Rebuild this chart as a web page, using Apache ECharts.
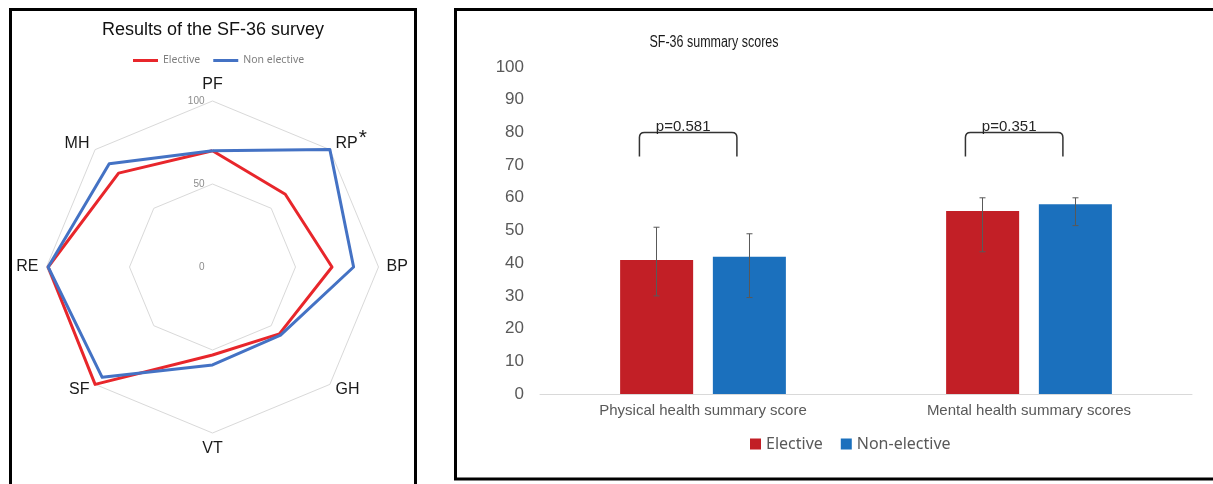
<!DOCTYPE html>
<html>
<head>
<meta charset="utf-8">
<title>SF-36</title>
<script src="https://cdn.jsdelivr.net/npm/echarts@6/dist/echarts.min.js"></script>
<style>
html, body { margin: 0; padding: 0; background: #fff; }
#main { width: 1213px; height: 484px; }
</style>
</head>
<body>
<div id="main"></div>
<script>
// radar: SF-36 domains, clockwise from the top
var domains = ['PF', 'RP', 'BP', 'GH', 'VT', 'SF', 'RE', 'MH'];
var radarElective = [70, 62, 72, 57, 53, 100, 99, 80];
var radarNonElective = [70, 100, 85, 58, 59, 94, 99, 88];
var radarTicks = [0, 50, 100];

// bar chart: summary scores with error bars
var categories = ['Physical health summary score', 'Mental health summary scores'];
var barElective = [41, 56];
var barNonElective = [42, 58];
var errElective = [[30, 51], [43.5, 60]];
var errNonElective = [[29.5, 49], [51.5, 60]];
var pValues = ['p=0.581', 'p=0.351'];
var bracketTop = [80, 80];

var FONT = "'Liberation Sans', Arial, sans-serif";
var LEGFONT = "'Noto Sans', 'Open Sans', sans-serif";
var radarRed = '#e8262b', radarBlue = '#4472c4';
var barRed = '#c21f26', barBlue = '#1b70bd';

// echarts radar runs counter-clockwise, the figure runs clockwise
function ccw(a) {
	return [a[0]].concat(a.slice(1).reverse());
}

var indicators = ccw(domains).map(function (d, i) {
	var ind = { name: d, min: 0, max: radarTicks[radarTicks.length - 1] };
	if (i === 0) ind.axisLabel = { show: true };
	return ind;
});

function errorBars(errs, side) {
	return {
		type: 'custom',
		xAxisIndex: 0,
		yAxisIndex: 0,
		z: 5,
		encode: { x: 0, y: [1, 2] },
		data: errs.map(function (e, i) { return [i, e[0], e[1]]; }),
		renderItem: function (params, api) {
			var lo = api.coord([api.value(0), api.value(1)]);
			var hi = api.coord([api.value(0), api.value(2)]);
			var band = api.size([1, 0])[0];
			var x = lo[0] + side * band * 0.1426;
			var cap = 3;
			var st = { stroke: '#595959', lineWidth: 1 };
			return {
				type: 'group',
				children: [
					{ type: 'line', shape: { x1: x, y1: lo[1], x2: x, y2: hi[1] }, style: st },
					{ type: 'line', shape: { x1: x - cap, y1: hi[1], x2: x + cap, y2: hi[1] }, style: st },
					{ type: 'line', shape: { x1: x - cap, y1: lo[1], x2: x + cap, y2: lo[1] }, style: st }
				]
			};
		}
	};
}

var myChart = echarts.init(document.getElementById('main'));
var option = {
	backgroundColor: '#fff',
	animation: false,
	graphic: [
		{ type: 'rect', z: -10, shape: { x: 10.5, y: 9.5, width: 405, height: 520 },
			style: { fill: '#fff', stroke: '#000', lineWidth: 3 } },
		{ type: 'rect', z: -10, shape: { x: 455.5, y: 9.5, width: 800, height: 469.5 },
			style: { fill: '#fff', stroke: '#000', lineWidth: 3 } },
		// condensed title of the right panel
		{ type: 'text', x: 714, y: 43, scaleX: 0.78,
			style: { text: 'SF-36 summary scores', align: 'center', verticalAlign: 'middle',
				fontSize: 16, fill: '#1a1a1a', fontFamily: FONT } }
	],
	title: [
		{
			text: 'Results of the SF-36 survey',
			left: 208, top: 16, textAlign: 'center',
			textStyle: { fontSize: 18, fontWeight: 'normal', color: '#111', fontFamily: FONT }
		}
	],
	legend: [
		{
			left: 128, top: 50,
			icon: 'rect', itemWidth: 25, itemHeight: 3, itemGap: 13,
			textStyle: { fontSize: 10.5, color: '#7f7f7f', fontFamily: LEGFONT },
			data: [
				{ name: 'Elective', itemStyle: { color: radarRed } },
				{ name: 'Non elective', itemStyle: { color: radarBlue } }
			]
		},
		{
			left: 745, top: 431,
			icon: 'rect', itemWidth: 11, itemHeight: 11, itemGap: 18,
			textStyle: { fontSize: 16, color: '#595959', fontFamily: LEGFONT },
			data: [
				{ name: 'Elective', itemStyle: { color: barRed } },
				{ name: 'Non-elective', itemStyle: { color: barBlue } }
			]
		}
	],
	radar: {
		center: [212.5, 267],
		radius: 166,
		startAngle: 90,
		splitNumber: radarTicks.length - 1,
		shape: 'polygon',
		nameGap: 8,
		indicator: indicators,
		axisName: {
			color: '#1a1a1a',
			fontSize: 16,
			fontFamily: FONT,
			formatter: function (name) {
				return name === 'RP' ? '{n|RP}{s|*}' : '{n|' + name + '}';
			},
			rich: {
				n: { fontSize: 16, color: '#1a1a1a', fontFamily: FONT },
				s: { fontSize: 21, color: '#1a1a1a', fontFamily: FONT, padding: [0, 0, 12, 1] }
			}
		},
		axisLine: { show: false },
		axisTick: { show: false },
		axisLabel: { show: false, color: '#8c8c8c', fontSize: 10, fontFamily: FONT, margin: 8 },
		splitLine: { lineStyle: { color: '#d9d9d9', width: 1 } },
		splitArea: { show: false }
	},
	grid: { left: 540, right: 21, top: 67, bottom: 90 },
	xAxis: {
		type: 'category',
		data: categories,
		axisLine: { lineStyle: { color: '#d9d9d9' } },
		axisTick: { show: false },
		axisLabel: { fontSize: 15, color: '#595959', fontFamily: FONT, margin: 9 }
	},
	yAxis: {
		type: 'value',
		min: 0, max: 100, interval: 10,
		axisLine: { show: false },
		axisTick: { show: false },
		splitLine: { show: false },
		axisLabel: { fontSize: 17, color: '#595959', fontFamily: FONT, margin: 16 }
	},
	series: [
		{
			type: 'radar',
			symbol: 'none',
			lineStyle: { width: 3 },
			data: [
				{ name: 'Elective', value: ccw(radarElective),
					lineStyle: { color: radarRed, width: 3 }, itemStyle: { color: radarRed } },
				{ name: 'Non elective', value: ccw(radarNonElective),
					lineStyle: { color: radarBlue, width: 3 }, itemStyle: { color: radarBlue } }
			]
		},
		{
			type: 'bar', name: 'Elective',
			data: barElective,
			barWidth: '22.4%', barGap: '27%',
			itemStyle: { color: barRed }
		},
		{
			type: 'bar', name: 'Non-elective',
			data: barNonElective,
			barWidth: '22.4%', barGap: '27%',
			itemStyle: { color: barBlue }
		},
		errorBars(errElective, -1),
		errorBars(errNonElective, 1),
		{
			type: 'custom',
			xAxisIndex: 0,
			yAxisIndex: 0,
			z: 6,
			encode: { x: 0, y: 1 },
			data: bracketTop.map(function (v, i) { return [i, v]; }),
			renderItem: function (params, api) {
				var p = api.coord([api.value(0), api.value(1)]);
				var band = api.size([1, 0])[0];
				var l = p[0] - band * 0.195, r = p[0] + band * 0.104;
				var t = p[1], b = t + 24, k = 5;
				var d = 'M' + l + ',' + b + 'L' + l + ',' + (t + k) + 'Q' + l + ',' + t + ',' + (l + k) + ',' + t +
					'L' + (r - k) + ',' + t + 'Q' + r + ',' + t + ',' + r + ',' + (t + k) + 'L' + r + ',' + b;
				return {
					type: 'group',
					children: [
						{ type: 'path', shape: { pathData: d },
							style: { fill: 'none', stroke: '#333', lineWidth: 1.5 } },
						{ type: 'text', x: (l + r) / 2 - 5, y: t - 6,
							style: { text: pValues[params.dataIndex], align: 'center', verticalAlign: 'middle',
								fontSize: 15, fill: '#262626', fontFamily: FONT } }
					]
				};
			}
		}
	]
};
myChart.setOption(option);
</script>
</body>
</html>
